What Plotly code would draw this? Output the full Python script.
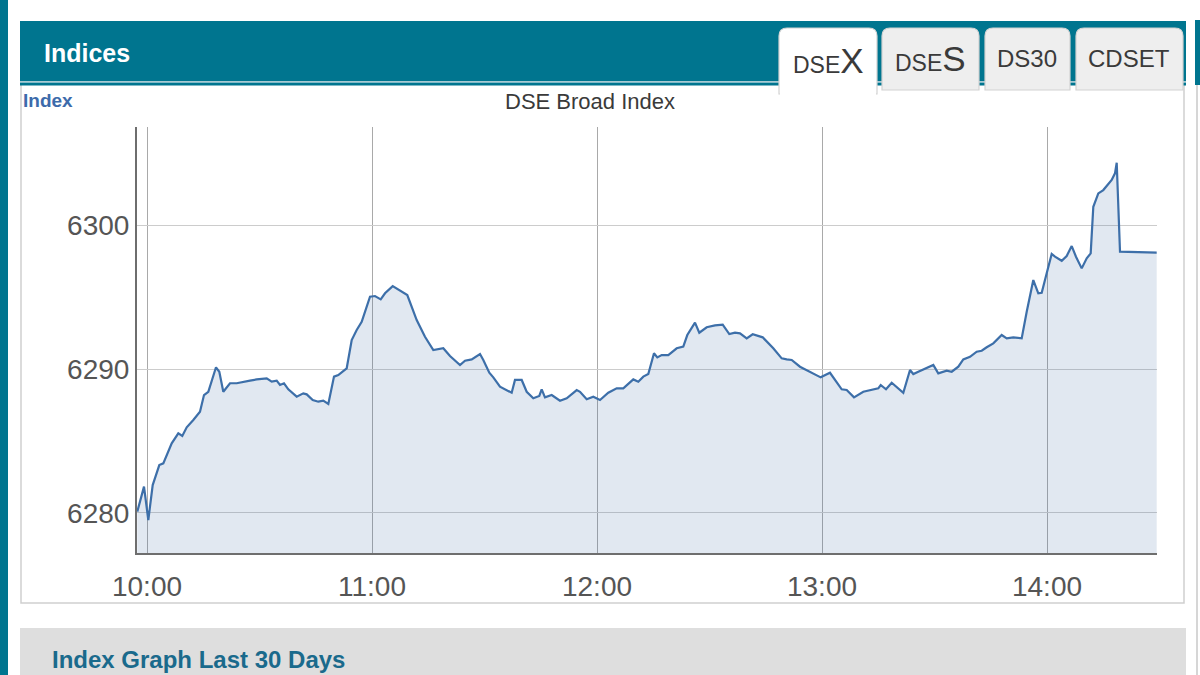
import pandas as pd
import plotly.graph_objects as go

# ---- data ----
minutes_from_open = [
    -2.59, -0.80, 0.35, 1.52, 3.28, 4.35, 6.59, 8.35, 9.41, 10.59, 12.35, 14.13, 15.20, 16.35,
    18.40, 19.28, 20.35, 22.13, 23.92, 25.68, 27.47, 29.25, 31.92, 33.25, 34.59, 35.47, 36.53,
    37.68, 39.92, 41.68, 42.59, 44.19, 45.68, 47.01, 48.35, 49.87, 51.01, 53.25, 54.59, 55.92,
    57.25, 59.47, 60.80, 62.32, 63.47, 65.52, 67.47, 69.41, 71.92, 74.13, 76.35, 79.01, 80.80,
    83.47, 84.80, 86.59, 88.80, 89.68, 91.28, 92.35, 94.13, 97.25, 98.13, 99.92, 101.25, 103.01,
    104.61, 105.25, 106.13, 107.92, 110.13, 111.92, 114.59, 115.47, 117.25, 119.01, 120.80,
    123.01, 125.25, 127.01, 129.68, 131.01, 132.35, 133.68, 135.20, 136.08, 137.25, 139.01,
    141.25, 143.01, 144.08, 146.13, 147.28, 149.25, 151.47, 153.52, 155.28, 156.80, 158.13,
    159.92, 161.52, 164.19, 167.01, 169.25, 170.59, 171.92, 174.13, 176.80, 179.65, 182.13,
    183.47, 185.25, 186.59, 188.53, 191.01, 192.80, 195.01, 195.65, 197.07, 198.59, 200.35,
    201.68, 203.47, 204.35, 205.68, 209.68, 211.01, 213.25, 214.59, 216.35, 217.68, 219.47,
    221.25, 222.59, 223.92, 225.68, 227.92, 229.25, 231.01, 233.25, 234.59, 236.35, 237.68,
    238.59, 239.92, 241.25, 242.13, 243.92, 245.25, 246.59, 247.73, 249.25, 250.59, 251.65,
    252.35, 253.68, 255.01, 257.25, 258.13, 258.59, 259.47, 269.25,
]
index_values = [
    6280.09, 6281.83, 6279.51, 6281.94, 6283.33, 6283.45, 6284.84, 6285.53, 6285.35, 6285.95,
    6286.46, 6287.03, 6288.19, 6288.42, 6290.12, 6289.81, 6288.42, 6289.01, 6289.01, 6289.12,
    6289.19, 6289.28, 6289.35, 6289.12, 6289.19, 6288.89, 6289.01, 6288.59, 6288.08, 6288.31,
    6288.24, 6287.85, 6287.73, 6287.80, 6287.57, 6289.47, 6289.58, 6290.05, 6292.01, 6292.71,
    6293.28, 6295.02, 6295.07, 6294.84, 6295.26, 6295.76, 6295.44, 6295.14, 6293.40, 6292.24,
    6291.32, 6291.44, 6290.90, 6290.28, 6290.58, 6290.67, 6291.04, 6290.63, 6289.74, 6289.42,
    6288.77, 6288.35, 6289.24, 6289.24, 6288.42, 6287.97, 6288.13, 6288.59, 6288.03, 6288.19,
    6287.80, 6287.97, 6288.54, 6288.42, 6287.90, 6288.08, 6287.85, 6288.35, 6288.66, 6288.66,
    6289.28, 6289.12, 6289.47, 6289.65, 6291.09, 6290.81, 6290.97, 6290.97, 6291.44, 6291.55,
    6292.36, 6293.22, 6292.52, 6292.90, 6293.03, 6293.08, 6292.43, 6292.52, 6292.48, 6292.13,
    6292.41, 6292.20, 6291.44, 6290.74, 6290.67, 6290.63, 6290.16, 6289.81, 6289.42, 6289.74,
    6289.24, 6288.59, 6288.54, 6288.03, 6288.42, 6288.54, 6288.66, 6288.89, 6288.59, 6289.05,
    6288.66, 6288.35, 6289.93, 6289.65, 6289.81, 6290.28, 6289.70, 6289.88, 6289.81, 6290.16,
    6290.67, 6290.85, 6291.20, 6291.27, 6291.51, 6291.78, 6292.36, 6292.13, 6292.20, 6292.13,
    6293.98, 6296.18, 6295.26, 6295.30, 6296.65, 6297.99, 6297.80, 6297.52, 6297.85, 6298.54,
    6297.80, 6296.99, 6297.69, 6298.03, 6301.27, 6302.20, 6302.43, 6303.13, 6303.59, 6304.33,
    6298.15, 6298.08,
]
session_date = "2024-01-01"
open_time = "10:00"
hour_ticks = ["10:00", "11:00", "12:00", "13:00", "14:00"]
x_range_times = ["09:57:20", "14:29:20"]
y_range = [6277.22, 6306.81]
y_ticks = [6280, 6290, 6300]
chart_title = "DSE Broad Index"
tabs = ["DSEX", "DSES", "DS30", "CDSET"]

base = pd.Timestamp(f"{session_date} {open_time}")
times = [base + pd.Timedelta(minutes=m) for m in minutes_from_open]

# ---- page geometry (pixels) ----
W, H = 1200, 675
L, R, T, B = 137, 1157, 127, 553
PW, PH = R - L, B - T


def px(x):
    return (x - L) / PW


def py(y):
    return 1 - (y - T) / PH


TEAL = "#00758f"
FONT = "Liberation Sans, Arial, sans-serif"

fig = go.Figure()
fig.add_trace(go.Scatter(
    x=times, y=index_values, mode="lines",
    line=dict(color="#3d6fa9", width=2.2),
    fill="tozeroy", fillcolor="rgba(69,114,167,0.16)",
    hoverinfo="x+y", showlegend=False,
))

shapes = []


def rect(x0, y0, x1, y1, fill, line=None, lw=0, layer="below"):
    shapes.append(dict(type="rect", xref="paper", yref="paper",
                       x0=px(x0), x1=px(x1), y0=py(y1), y1=py(y0),
                       fillcolor=fill, line=dict(color=line or fill, width=lw), layer=layer))


def hline(x0, x1, y, color, lw=1, layer="below"):
    shapes.append(dict(type="line", xref="paper", yref="paper",
                       x0=px(x0), x1=px(x1), y0=py(y), y1=py(y),
                       line=dict(color=color, width=lw), layer=layer))


def vline(x, y0, y1, color, lw=1, layer="below"):
    shapes.append(dict(type="line", xref="paper", yref="paper",
                       x0=px(x), x1=px(x), y0=py(y0), y1=py(y1),
                       line=dict(color=color, width=lw), layer=layer))


# left teal bar
rect(-2, -2, 8, H + 2, TEAL)
# chart panel
rect(21, 84, 1184, 603, "white", "#cfcfcf", 1.5)
# header bar
rect(20, 21, 1186, 81, TEAL)
hline(20, 1186, 81.5, "#a9c9d2", 1.2)
rect(20, 82.5, 1186, 85.5, TEAL)
# right edge
rect(1195, 20, 1202, 85, TEAL)
vline(1197, 85, H, "#c8c8c8", 1.5)
# bottom grey box
rect(20, 628, 1186, H + 5, "#dedede")


def tab_path(x0, x1, y0, y1, r=8):
    X0, X1 = px(x0), px(x1)
    Y0, Y1 = py(y0), py(y1)
    rx = r / PW
    ry = r / PH
    return (f"M {X0},{Y1} L {X0},{Y0 - ry} Q {X0},{Y0} {X0 + rx},{Y0} "
            f"L {X1 - rx},{Y0} Q {X1},{Y0} {X1},{Y0 - ry} L {X1},{Y1} Z")


tab_boxes = [(779, 877, 28, 94), (882, 979, 28, 90), (985, 1070, 28, 90), (1076, 1183, 28, 90)]
for i, (x0, x1, y0, y1) in enumerate(tab_boxes):
    active = i == 0
    shapes.append(dict(type="path", xref="paper", yref="paper",
                       path=tab_path(x0, x1, y0, y1),
                       fillcolor="white" if active else "#eeeeee",
                       line=dict(color="#d2d2d2", width=1.2), layer="above"))
    if active:
        hline(x0 + 1, x1 - 1, y1, "white", 2.5, layer="above")

annotations = []


def text(x, y, s, size, color, xanchor="left", bold=False):
    annotations.append(dict(xref="paper", yref="paper", x=px(x), y=py(y),
                            text=f"<b>{s}</b>" if bold else s, showarrow=False,
                            xanchor=xanchor, yanchor="middle",
                            font=dict(family=FONT, size=size, color=color)))


text(42, 53, "Indices", 25, "white", bold=True)
text(21, 100, "Index", 19, "#3d6bab", bold=True)
text(590, 101, chart_title, 22, "#3a3a3a", xanchor="center")
text(50, 659, "Index Graph Last 30 Days", 24, "#1a6a8c", bold=True)

tab_centers = [(828, 60), (930, 58), (1027, 58), (1129, 58)]
for name, (cx, cy) in zip(tabs, tab_centers):
    if name in ("DSEX", "DSES"):
        s = f"{name[:3]}<span style='font-size:35px'>{name[3]}</span>"
        size = 23
    else:
        s = name
        size = 24
    text(cx, cy, s, size, "#3a3a3a", xanchor="center")

tick_vals = [pd.Timestamp(f"{session_date} {t}") for t in hour_ticks]

fig.update_layout(
    width=W, height=H,
    margin=dict(l=L, r=W - R, t=T, b=H - B, pad=0),
    paper_bgcolor="white", plot_bgcolor="rgba(0,0,0,0)",
    font=dict(family=FONT, color="#555555"),
    shapes=shapes, annotations=annotations,
    xaxis=dict(
        range=[f"{session_date} {x_range_times[0]}", f"{session_date} {x_range_times[1]}"],
        tickvals=tick_vals, ticktext=hour_ticks,
        showgrid=True, gridcolor="#a9a9a9", gridwidth=1.2,
        showline=True, linecolor="#6e6e6e", linewidth=2,
        ticks="", tickfont=dict(size=28, color="#555555"),
        ticklabelstandoff=7, zeroline=False, fixedrange=True,
    ),
    yaxis=dict(
        range=y_range, tickvals=y_ticks,
        showgrid=True, gridcolor="#cccccc", gridwidth=1.2,
        showline=True, linecolor="#6e6e6e", linewidth=2,
        ticks="", tickfont=dict(size=28, color="#555555"),
        ticklabelstandoff=0, zeroline=False, fixedrange=True,
    ),
    showlegend=False,
)

fig.write_html(
    "out.html",
    config={"displayModeBar": False},
    post_script="document.body.style.margin='0';document.body.style.overflow='hidden';",
)
